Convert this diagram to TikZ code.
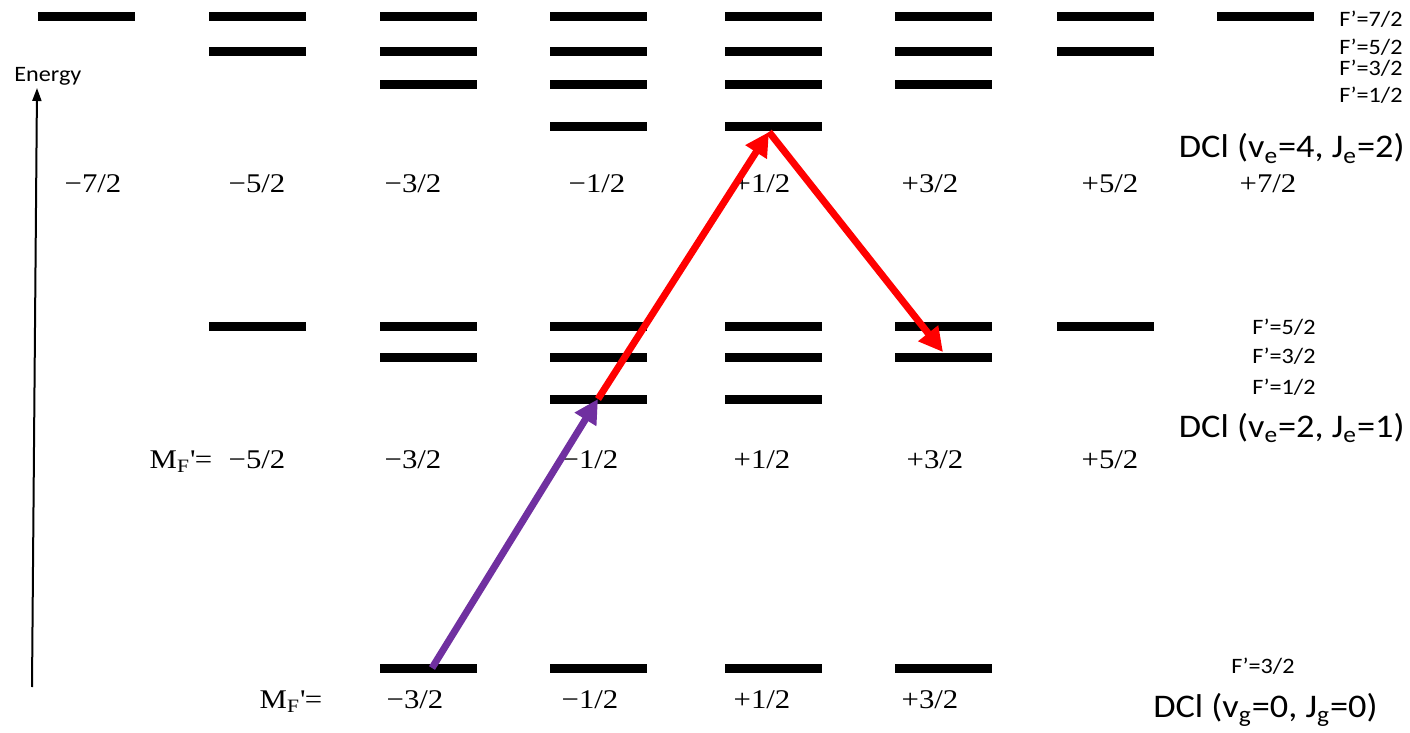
\documentclass[tikz,border=0pt]{standalone}
\usepackage{fontspec}
\setmainfont{Liberation Serif}[FakeStretch=1.14]
\newfontfamily\calib{Carlito}[FakeStretch=1.1]
\usetikzlibrary{arrows.meta}
\definecolor{vio}{HTML}{7030A0}
\definecolor{rd}{HTML}{FF0000}
\begin{document}
\begin{tikzpicture}[x=0.5pt,y=-0.5pt,
  lvl/.style={fill=black,draw=none,inner sep=0pt,minimum width=48.5pt,minimum height=4.5pt},
  num/.style={font=\fontsize{13.5}{16}\selectfont,anchor=base,inner sep=0pt},
  flab/.style={font=\calib\fontsize{11}{13}\selectfont,anchor=base,inner sep=0pt},
  dcl/.style={font=\calib\fontsize{16.5}{20}\selectfont,anchor=base east,inner sep=0pt},
  trans/.style={line width=3.5pt,-{Triangle[length=12pt,width=12pt]}},
  axis/.style={line width=1pt,-{Triangle[length=6.5pt,width=4.5pt]}}]
\useasboundingbox (0,0) rectangle (1410,733);
% ---- upper manifold DCl(v=4,J=2)
\foreach \c/\x in {a/86,b/257,c/428,d/598,e/773,f/943,g/1105,h/1265}
  \node[lvl] (t1\c) at (\x,17) {};
\foreach \c/\x in {b/257,c/428,d/598,e/773,f/943,g/1105}
  \node[lvl] (t2\c) at (\x,52) {};
\foreach \c/\x in {c/428,d/598,e/773,f/943}
  \node[lvl] (t3\c) at (\x,85) {};
\foreach \c/\x in {d/598,e/773}
  \node[lvl] (t4\c) at (\x,127) {};
% ---- middle manifold DCl(v=2,J=1)
\foreach \c/\x in {b/257,c/428,d/598,e/773,f/943,g/1105}
  \node[lvl] (m1\c) at (\x,326) {};
\foreach \c/\x in {c/428,d/598,e/773,f/943}
  \node[lvl] (m2\c) at (\x,357) {};
\foreach \c/\x in {d/598,e/773}
  \node[lvl] (m3\c) at (\x,399) {};
% ---- ground manifold DCl(v=0,J=0)
\foreach \c/\x in {c/428,d/598,e/773,f/943}
  \node[lvl] (g\c) at (\x,668) {};
% ---- M_F labels
\node[num] (tn1) at (93,192) {−7/2};
\node[num] (tn2) at (257,192) {−5/2};
\node[num] (tn3) at (413,192) {−3/2};
\node[num] (tn4) at (597,192) {−1/2};
\node[num] (tn5) at (762,192) {+1/2};
\node[num] (tn6) at (930,192) {+3/2};
\node[num] (tn7) at (1110,192) {+5/2};
\node[num] (tn8) at (1268,192) {+7/2};
\node[num] (mn1) at (257,468) {−5/2};
\node[num] (mn2) at (413,468) {−3/2};
\node[num] (mn3) at (590,468) {−1/2};
\node[num] (mn4) at (762,468) {+1/2};
\node[num] (mn5) at (935,468) {+3/2};
\node[num] (mn6) at (1110,468) {+5/2};
\node[num] (gn1) at (415,708) {−3/2};
\node[num] (gn2) at (590,708) {−1/2};
\node[num] (gn3) at (762,708) {+1/2};
\node[num] (gn4) at (930,708) {+3/2};
\node[num] (mmf) at (181,468) {M\textsubscript{F}\textquotesingle=};
\node[num] (gmf) at (291,708) {M\textsubscript{F}\textquotesingle=};
% ---- F' labels
\node[flab,anchor=base east] (tf1) at (1403,27) {F’=7/2};
\node[flab,anchor=base east] (tf2) at (1403,55) {F’=5/2};
\node[flab,anchor=base east] (tf3) at (1403,76) {F’=3/2};
\node[flab,anchor=base east] (tf4) at (1403,103) {F’=1/2};
\node[flab] (mf1) at (1284,335) {F’=5/2};
\node[flab] (mf2) at (1284,364) {F’=3/2};
\node[flab] (mf3) at (1284,394) {F’=1/2};
\node[flab] (gf1) at (1263,673) {F’=3/2};
% ---- manifold names
\node[dcl] (tdcl) at (1405,158) {DCl (v\textsubscript{e}=4, J\textsubscript{e}=2)};
\node[dcl] (mdcl) at (1405,437) {DCl (v\textsubscript{e}=2, J\textsubscript{e}=1)};
\node[dcl] (gdcl) at (1378,717) {DCl (v\textsubscript{g}=0, J\textsubscript{g}=0)};
% ---- energy axis
\coordinate (e0) at (32,687);
\coordinate (e1) at (37,88);
\draw[axis] (e0) -- (e1);
\node[font=\calib\fontsize{11}{13}\selectfont,anchor=base west,inner sep=0pt] (en) at (14,82) {Energy};
% ---- transitions
\draw[trans,vio] ([xshift=2pt]gc.center) -- (m3d.center);
\draw[trans,rd] (m3d.center) -- ([xshift=-2pt]t4e.south);
\draw[trans,rd] ([xshift=-2pt]t4e.south) -- (m2f.north);
\end{tikzpicture}
\end{document}
